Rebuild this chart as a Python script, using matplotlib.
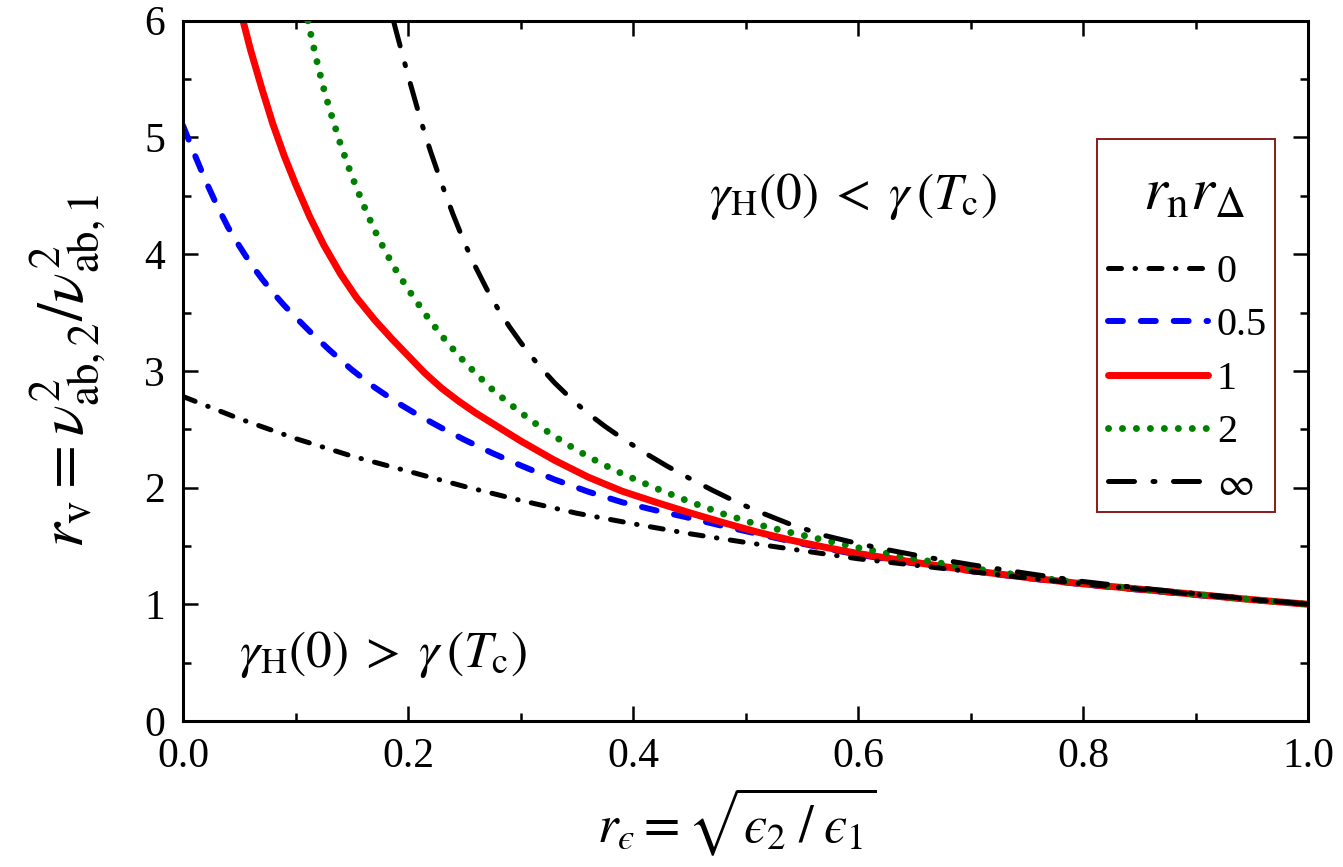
import matplotlib
matplotlib.use("Agg")
import matplotlib.pyplot as plt
from matplotlib.patches import Rectangle

plt.rcParams['font.family'] = ['Liberation Serif', 'DejaVu Serif']
plt.rcParams['mathtext.fontset'] = 'stix'
plt.rcParams['xtick.labelsize'] = 30
plt.rcParams['ytick.labelsize'] = 30

# r_n r_Delta = 0
x_0 = [0, 0.05, 0.1, 0.15, 0.2, 0.25, 0.3, 0.35, 0.4, 0.45, 0.5, 0.55, 0.6,
       0.65, 0.7, 0.75, 0.8, 0.85, 0.9, 0.95, 1.0]
y_0 = [2.78, 2.59, 2.42, 2.27, 2.14, 2.01, 1.89, 1.78, 1.69, 1.605, 1.53, 1.46,
       1.39, 1.335, 1.28, 1.225, 1.175, 1.13, 1.085, 1.04, 1.0]

# r_n r_Delta = 0.5
x_05 = [0, 0.01, 0.02, 0.03, 0.04, 0.05, 0.06, 0.07, 0.08, 0.09, 0.1, 0.115, 0.13,
        0.15, 0.17, 0.19, 0.21, 0.23, 0.25, 0.275, 0.3, 0.33, 0.36, 0.39, 0.42,
        0.45, 0.48, 0.51, 0.54, 0.57, 0.6, 0.65, 0.7, 0.75, 0.8, 0.85, 0.9, 0.95, 1.0]
y_05 = [5.1, 4.86, 4.63, 4.42, 4.23, 4.07, 3.92, 3.79, 3.67, 3.56, 3.46, 3.315, 3.18,
        3.01, 2.86, 2.73, 2.615, 2.51, 2.41, 2.295, 2.19, 2.07, 1.965, 1.875, 1.805,
        1.74, 1.67, 1.605, 1.54, 1.48, 1.425, 1.35, 1.285, 1.225, 1.17, 1.125, 1.08,
        1.04, 1.0]

# r_n r_Delta = 1
x_1 = [0.0533, 0.06, 0.07, 0.08, 0.09, 0.1, 0.1126, 0.125, 0.14, 0.154, 0.17, 0.185,
       0.2, 0.215, 0.23, 0.245, 0.26, 0.28, 0.3, 0.33, 0.36, 0.39, 0.42, 0.45, 0.48,
       0.51, 0.54, 0.57, 0.6, 0.65, 0.7, 0.75, 0.8, 0.85, 0.9, 0.95, 1.0]
y_1 = [6.0, 5.75, 5.42, 5.11, 4.84, 4.6, 4.32, 4.08, 3.83, 3.63, 3.44, 3.28,
       3.13, 2.98, 2.85, 2.74, 2.64, 2.52, 2.4, 2.235, 2.09, 1.97, 1.875, 1.785, 1.7,
       1.62, 1.55, 1.49, 1.435, 1.36, 1.29, 1.23, 1.175, 1.13, 1.085, 1.04, 1.0]

# r_n r_Delta = 2
x_2 = [0.111, 0.115, 0.12, 0.125, 0.13, 0.14, 0.15, 0.16, 0.17, 0.18, 0.19, 0.2,
       0.215, 0.23, 0.245, 0.26, 0.275, 0.29, 0.31, 0.33, 0.35, 0.37, 0.39, 0.42,
       0.45, 0.48, 0.51, 0.54, 0.57, 0.6, 0.65, 0.7, 0.75, 0.8, 0.85, 0.9, 0.95, 1.0]
y_2 = [6.0, 5.82, 5.61, 5.42, 5.25, 4.94, 4.67, 4.43, 4.21, 4.02, 3.85, 3.7,
       3.49, 3.3, 3.13, 2.98, 2.84, 2.72, 2.57, 2.44, 2.32, 2.215, 2.12, 1.995,
       1.88, 1.775, 1.685, 1.615, 1.55, 1.485, 1.39, 1.31, 1.24, 1.18, 1.13, 1.085,
       1.04, 1.0]

# r_n r_Delta = infinity
x_inf = [0.187, 0.19, 0.195, 0.2, 0.205, 0.21, 0.215, 0.22, 0.23, 0.24, 0.25, 0.26,
         0.27, 0.28, 0.29, 0.3, 0.315, 0.33, 0.345, 0.36, 0.375, 0.39, 0.41, 0.43,
         0.45, 0.47, 0.49, 0.51, 0.54, 0.57, 0.6, 0.63, 0.66, 0.7, 0.75, 0.8, 0.85,
         0.9, 0.95, 1.0]
y_inf = [6.0, 5.89, 5.71, 5.53, 5.36, 5.19, 5.03, 4.88, 4.6, 4.34, 4.1, 3.89,
         3.7, 3.53, 3.38, 3.245, 3.06, 2.9, 2.76, 2.635, 2.525, 2.425, 2.3, 2.185,
         2.08, 1.98, 1.885, 1.8, 1.685, 1.59, 1.52, 1.46, 1.405, 1.34, 1.265, 1.195,
         1.14, 1.09, 1.045, 1.0]

labels = ['0', '0.5', '1', '2', r'$\infty$']

fig = plt.figure(figsize=(13.43, 8.67), dpi=100)
ax = fig.add_axes([0.1363, 0.1684, 0.8377, 0.8077])

ax.plot(x_0, y_0, color='black', lw=3.6, ls=(0, (2.6, 2.7, 0.1, 2.7)),
        dash_capstyle='round', label=labels[0], zorder=4)
ax.plot(x_05, y_05, color='#0000ff', lw=4.3, ls=(0, (2.5, 3.0)),
        dash_capstyle='round', label=labels[1], zorder=2)
ax.plot(x_1, y_1, color='#ff0000', lw=5.0, ls='-', solid_capstyle='round',
        label=labels[2], zorder=2)
ax.plot(x_2, y_2, color='#008000', lw=5.0, ls=(0, (0.01, 2.0)),
        dash_capstyle='round', label=labels[3], zorder=3)
ax.plot(x_inf, y_inf, color='black', lw=3.6, ls=(0, (5.2, 3.7, 0.4, 3.7)),
        dash_capstyle='round', label=labels[4], zorder=4)

ax.set_xlim(0, 1)
ax.set_ylim(0, 6)
ax.set_xticks([0, 0.2, 0.4, 0.6, 0.8, 1.0])
ax.set_xticklabels(['0.0', '0.2', '0.4', '0.6', '0.8', '1.0'])
ax.set_xticks([0.1, 0.3, 0.5, 0.7, 0.9], minor=True)
ax.set_yticks([0, 1, 2, 3, 4, 5, 6])
ax.set_yticks([0.5, 1.5, 2.5, 3.5, 4.5, 5.5], minor=True)
ax.tick_params(which='both', direction='in', top=True, right=True, width=1.8)
ax.tick_params(axis='x', which='major', pad=12, labelsize=30)
ax.tick_params(axis='y', which='major', pad=13, labelsize=30)
ax.tick_params(which='major', length=11)
ax.tick_params(which='minor', length=6)
for s in ax.spines.values():
    s.set_linewidth(2.2)

ax.set_xlabel(r'$r_{ϵ} = \sqrt{ϵ_{2}\;/\;ϵ_{1}}$', fontsize=38)
ax.xaxis.set_label_coords(0.4916, -0.092)
ax.set_ylabel(r'$r_{\mathrm{v}} = \nu^{2}_{\mathrm{ab,2}}/\nu^{2}_{\mathrm{ab,1}}$',
              fontsize=46, labelpad=26)

ax.text(0.5956, 4.49, r'$\gamma_{\mathrm{H}}(0)\;<\;\gamma\,(T_{\mathrm{c}})$',
        fontsize=37, ha='center', va='center')
ax.text(0.178, 0.566, r'$\gamma_{\mathrm{H}}(0)\;>\;\gamma\,(T_{\mathrm{c}})$',
        fontsize=37, ha='center', va='center')

# legend: frame and title drawn separately to match spacing
ax.add_patch(Rectangle((0.8124, 0.298), 0.1583, 0.533, transform=ax.transAxes,
                       facecolor='white', edgecolor='#8b1a1a', lw=1.4, zorder=5))
ax.text(0.8987, 0.751, r'$r_{\mathrm{n}}r_{\Delta}$', transform=ax.transAxes,
        fontsize=44, ha='center', va='center', zorder=6)
leg = ax.legend(loc='upper left', bbox_to_anchor=(0.8222, 0.667), borderaxespad=0,
                fontsize=29, frameon=False, handlelength=2.48,
                handletextpad=0.22, labelspacing=0.4, borderpad=0)
leg.set_zorder(7)

fig.savefig('out.png', dpi=100)
